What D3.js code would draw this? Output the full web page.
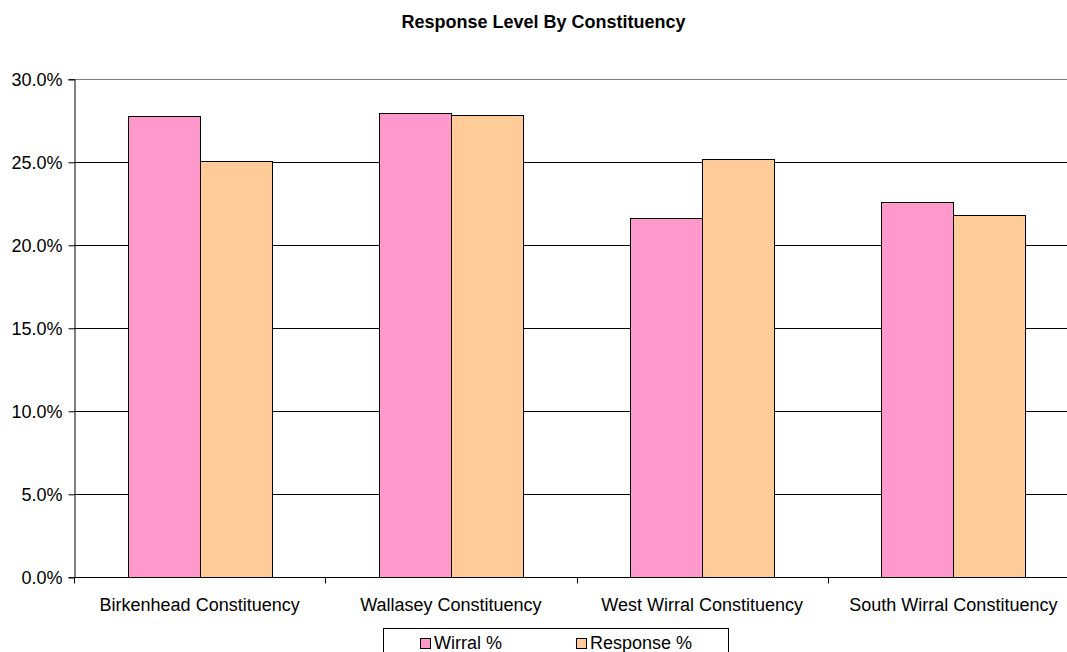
<!DOCTYPE html>
<html><head><meta charset="utf-8">
<script src="https://cdn.jsdelivr.net/npm/d3@7"></script>
<style>body{margin:0;background:#fff;}svg{display:block;font-family:"Liberation Sans",Arial,sans-serif;}</style>
</head><body><svg id="c" width="1067" height="652"></svg>
<script>
const categories = ["Birkenhead Constituency","Wallasey Constituency","West Wirral Constituency","South Wirral Constituency"];
const seriesNames = ["Wirral %","Response %"];
const wirral = [27.8, 28.0, 21.65, 22.6];
const response = [25.1, 27.85, 25.2, 21.85];
const yTicks = [0,5,10,15,20,25,30];
const colors = ["#FF99CC","#FFCC99"];

const svg = d3.select("#c");
const L = 74, R = 1079, T = 79.3, B = 577.3;
const y = d3.scaleLinear().domain([0,30]).range([B,T]);
const p = 0.427;
const x0 = d3.scaleBand().domain(categories).range([L,R]).paddingInner(p).paddingOuter(p/2);
const x1 = d3.scaleBand().domain(seriesNames).range([0,x0.bandwidth()]);
const step = x0.step();

// title
svg.append("text").attr("x",543.5).attr("y",28).attr("text-anchor","middle")
  .attr("font-size",18).attr("font-weight","bold").text("Response Level By Constituency");

// grid
svg.append("g").selectAll("line").data(yTicks.filter(d=>d>0)).join("line")
  .attr("x1",L).attr("x2",R).attr("y1",d=>Math.round(y(d))+0.5).attr("y2",d=>Math.round(y(d))+0.5)
  .attr("stroke",d=>d===30?"#808080":"#000").attr("stroke-width",1);

// bars
const data = categories.map((c,i)=>({c, vals:[{s:seriesNames[0],v:wirral[i]},{s:seriesNames[1],v:response[i]}]}));
const g = svg.append("g");
data.forEach(d=>{
  d.vals.forEach((e,j)=>{
    g.append("rect").attr("x",Math.round(x0(d.c)+x1(e.s))+0.5).attr("y",Math.round(y(e.v))+0.5)
      .attr("width",Math.round(x1.bandwidth())).attr("height",Math.round(B)-Math.round(y(e.v)))
      .attr("fill",colors[j]).attr("stroke","#000").attr("stroke-width",1);
  });
});

// y axis
const yAxis = d3.axisLeft(y).tickValues(yTicks).tickSize(6).tickPadding(6).tickFormat(d=>d3.format(".1f")(d)+"%");
const ya = svg.append("g").attr("transform",`translate(${L+0.5},0)`).call(yAxis);
ya.select(".domain").attr("stroke","#000");
ya.selectAll(".tick line").attr("stroke","#000");
ya.selectAll("text").attr("font-size",18).attr("font-family","Liberation Sans, Arial, sans-serif").attr("fill","#000");

// x axis
const xa = svg.append("g").attr("transform",`translate(0,${Math.round(B)+0.5})`);
xa.append("line").attr("x1",L).attr("x2",R).attr("stroke","#000");
const bounds = d3.range(categories.length+1).map(i=>L+i*step);
xa.selectAll("line.t").data(bounds).join("line").attr("class","t")
  .attr("x1",d=>Math.round(d)+0.5).attr("x2",d=>Math.round(d)+0.5).attr("y1",0).attr("y2",6).attr("stroke","#000");
xa.selectAll("text").data(categories).join("text")
  .attr("x",d=>x0(d)+x0.bandwidth()/2).attr("y",33).attr("text-anchor","middle")
  .attr("font-size",18).text(d=>d);

// legend
const lg = svg.append("g");
lg.append("rect").attr("x",383.5).attr("y",628.5).attr("width",345).attr("height",40)
  .attr("fill","#fff").attr("stroke","#000");
const lx = [420,576];
seriesNames.forEach((s,i)=>{
  lg.append("rect").attr("x",lx[i]+0.5).attr("y",638.5).attr("width",10).attr("height",10)
    .attr("fill",colors[i]).attr("stroke","#000");
  lg.append("text").attr("x",lx[i]+14).attr("y",649).attr("font-size",18).text(s);
});
</script></body></html>
